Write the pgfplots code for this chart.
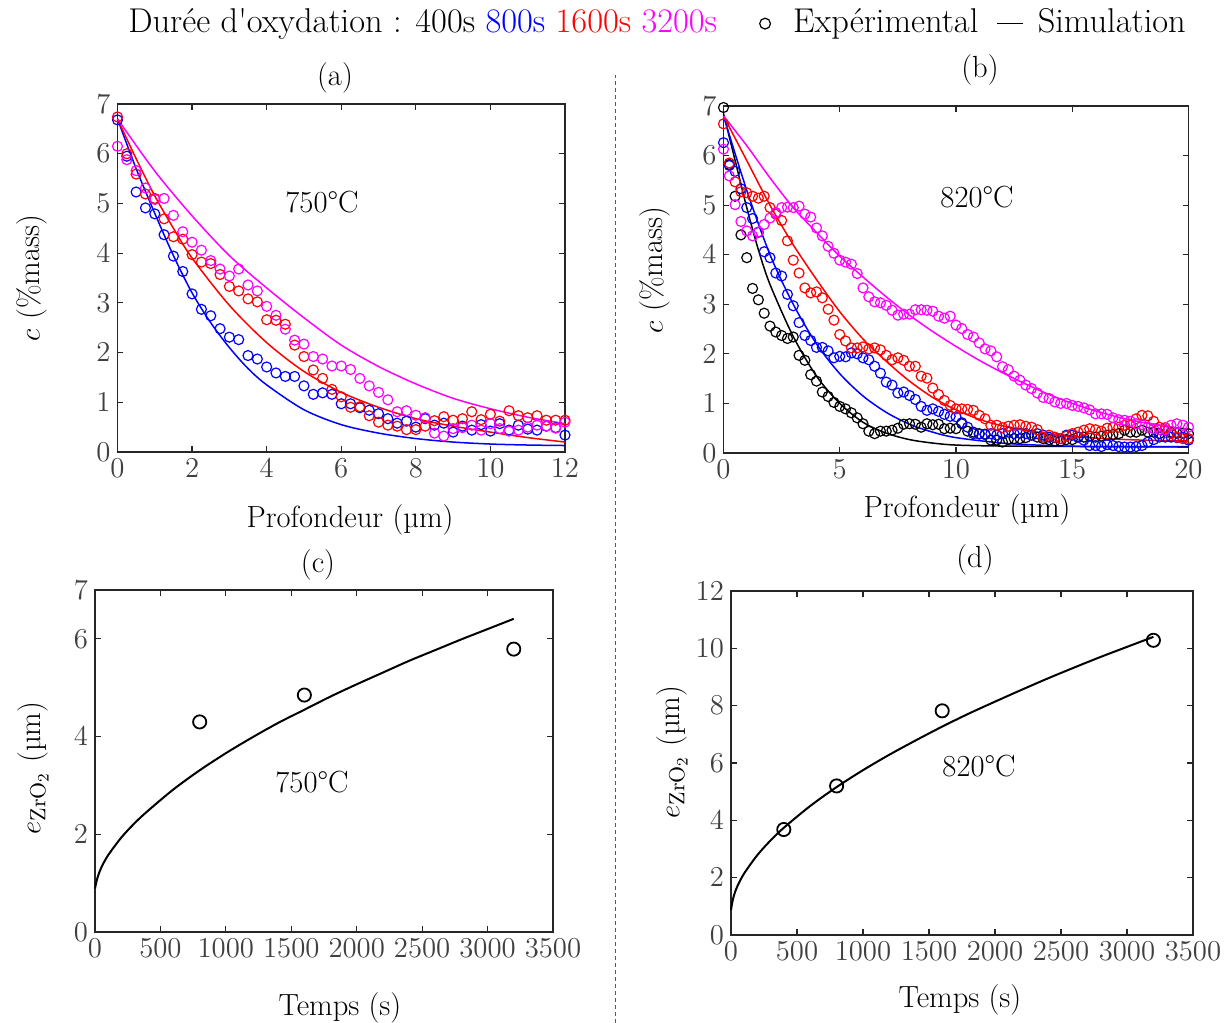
\documentclass[border=0pt]{standalone}
\usepackage{pgfplots}
\pgfplotsset{compat=1.18}
\definecolor{axgray}{RGB}{38,38,38}
\definecolor{tkgray}{RGB}{64,64,64}
\definecolor{cblue}{RGB}{0,0,255}
\definecolor{cred}{RGB}{255,0,0}
\definecolor{cmag}{RGB}{255,0,255}
\pgfplotsset{
  mstyle/.style={
    scale only axis, anchor=south west, clip=false,
    axis line style={draw=axgray, line width=0.75pt},
    tick style={draw=axgray, line width=0.6pt},
    major tick length=2.8pt,
    tick align=inside,
    tick label style={font=\fontsize{13.3}{15}\selectfont, text=tkgray},
  },
  expt/.style={only marks, mark=o, mark size=2.5pt, mark options={line width=0.6pt, solid}},
  sim/.style={no marks, line width=0.75pt, smooth},
}
\newcommand{\lbl}{\fontsize{15.3}{18}\selectfont}
\begin{document}
\begin{tikzpicture}
\path[use as bounding box] (0,0) rectangle (613.5pt,511.5pt);

% ---------------- (a) ----------------
\begin{axis}[mstyle, at={(58.75pt,285.5pt)}, width=223.75pt, height=174pt,
  xmin=0, xmax=12, ymin=0, ymax=7, xtick={0,2,...,12}, ytick={0,1,...,7}]
\addplot[expt, cblue] coordinates {(0,6.68)(0.25,5.95)(0.5,5.23)(0.75,4.91)(1,4.79)(1.25,4.37)(1.5,3.94)(1.75,3.63)(2,3.18)(2.25,2.87)(2.5,2.74)(2.75,2.48)(3,2.31)(3.25,2.26)(3.5,1.94)(3.75,1.87)(4,1.71)(4.25,1.59)(4.5,1.52)(4.75,1.52)(5,1.33)(5.25,1.16)(5.5,1.19)(5.75,1.16)(6,0.97)(6.25,0.97)(6.5,0.89)(6.75,0.84)(7,0.77)(7.25,0.67)(7.5,0.58)(7.75,0.62)(8,0.50)(8.25,0.67)(8.5,0.54)(8.75,0.58)(9,0.40)(9.25,0.52)(9.5,0.44)(9.75,0.55)(10,0.42)(10.25,0.57)(10.5,0.44)(10.75,0.54)(11,0.46)(11.25,0.44)(11.5,0.52)(11.75,0.49)(12,0.34)};
\addplot[expt, cred] coordinates {(0,6.74)(0.25,6.0)(0.5,5.59)(0.75,5.19)(1,5.10)(1.25,4.69)(1.5,4.33)(1.75,4.28)(2,3.97)(2.25,3.82)(2.5,3.79)(2.75,3.57)(3,3.33)(3.25,3.24)(3.5,3.08)(3.75,3.02)(4,2.66)(4.25,2.65)(4.5,2.57)(4.75,2.15)(5,1.92)(5.25,1.65)(5.5,1.48)(5.75,1.26)(6,1.11)(6.25,0.90)(6.5,0.91)(6.75,0.73)(7,0.60)(7.25,0.54)(7.5,0.52)(7.75,0.45)(8,0.45)(8.25,0.52)(8.5,0.63)(8.75,0.71)(9,0.64)(9.25,0.67)(9.5,0.81)(9.75,0.65)(10,0.76)(10.25,0.62)(10.5,0.83)(10.75,0.73)(11,0.69)(11.25,0.73)(11.5,0.64)(11.75,0.64)(12,0.64)};
\addplot[expt, cmag] coordinates {(0,6.15)(0.25,5.88)(0.5,5.66)(0.75,5.31)(1,5.08)(1.25,5.10)(1.5,4.76)(1.75,4.43)(2,4.22)(2.25,4.06)(2.5,3.85)(2.75,3.68)(3,3.54)(3.25,3.68)(3.5,3.36)(3.75,3.24)(4,2.93)(4.25,2.75)(4.5,2.47)(4.75,2.25)(5,2.17)(5.25,1.92)(5.5,1.87)(5.75,1.73)(6,1.73)(6.25,1.66)(6.5,1.48)(6.75,1.33)(7,1.20)(7.25,1.05)(7.5,0.81)(7.75,0.83)(8,0.74)(8.25,0.69)(8.5,0.38)(8.75,0.32)(9,0.47)(9.25,0.49)(9.5,0.54)(9.75,0.44)(10,0.57)(10.25,0.47)(10.5,0.42)(10.75,0.44)(11,0.50)(11.25,0.54)(11.5,0.52)(11.75,0.48)(12,0.60)};
\addplot[sim, cblue] coordinates {(0,6.7)(0.5,5.7)(1,4.8)(1.5,3.95)(2,3.2)(2.5,2.6)(3,2.1)(3.5,1.68)(4,1.35)(5,0.85)(6,0.55)(7,0.38)(8,0.27)(9,0.2)(10,0.16)(11,0.14)(12,0.13)};
\addplot[sim, cred] coordinates {(0,6.7)(0.5,5.9)(1,5.15)(1.5,4.5)(2,3.9)(3,2.95)(4,2.2)(5,1.62)(6,1.2)(7,0.9)(8,0.67)(9,0.52)(10,0.4)(11,0.29)(12,0.2)};
\addplot[sim, cmag] coordinates {(0,6.7)(1,5.65)(2,4.75)(3,3.95)(4,3.3)(5,2.7)(6,2.15)(7,1.72)(8,1.37)(9,1.08)(10,0.87)(11,0.7)(12,0.57)};
\end{axis}

% ---------------- (b) ----------------
\begin{axis}[mstyle, at={(361.75pt,285pt)}, width=232.5pt, height=173.5pt,
  xmin=0, xmax=20, ymin=0, ymax=7, xtick={0,5,...,20}, ytick={0,1,...,7}]
\addplot[expt, black] coordinates {(0,6.97)(0.25,5.82)(0.5,5.18)(0.75,4.40)(1,3.94)(1.25,3.32)(1.5,3.09)(1.75,2.82)(2,2.56)(2.25,2.44)(2.5,2.37)(2.75,2.31)(3,2.34)(3.25,1.97)(3.5,1.87)(3.75,1.58)(4,1.45)(4.25,1.23)(4.5,1.14)(4.75,1.02)(5,0.94)(5.25,0.89)(5.5,0.81)(5.75,0.71)(6,0.59)(6.25,0.44)(6.5,0.39)(6.75,0.44)(7,0.44)(7.25,0.46)(7.5,0.50)(7.75,0.58)(8,0.59)(8.25,0.58)(8.5,0.52)(8.75,0.59)(9,0.57)(9.25,0.58)(9.5,0.49)(9.75,0.50)(10,0.49)(10.25,0.59)(10.5,0.44)(10.75,0.42)(11,0.39)(11.25,0.38)(11.5,0.26)(11.75,0.26)(12,0.22)(12.25,0.27)(12.5,0.29)(12.75,0.29)(13,0.31)(13.25,0.36)(13.5,0.32)(13.75,0.29)(14,0.27)(14.25,0.24)(14.5,0.24)(14.75,0.27)(15,0.27)(15.25,0.32)(15.5,0.32)(15.75,0.34)(16,0.32)(16.25,0.34)(16.5,0.36)(16.75,0.37)(17,0.39)(17.25,0.46)(17.5,0.42)(17.75,0.42)(18,0.46)(18.25,0.42)(18.5,0.42)(18.75,0.39)(19,0.46)(19.25,0.42)(19.5,0.40)(19.75,0.40)(20,0.39)};
\addplot[expt, cblue] coordinates {(0,6.26)(0.25,5.80)(0.5,5.68)(0.75,5.33)(1,4.95)(1.25,4.73)(1.5,4.45)(1.75,4.06)(2,3.94)(2.25,3.63)(2.5,3.57)(2.75,3.20)(3,2.97)(3.25,2.63)(3.5,2.37)(3.75,2.27)(4,2.13)(4.25,2.13)(4.5,2.06)(4.75,1.92)(5,1.95)(5.25,1.94)(5.5,2.02)(5.75,2.00)(6,1.92)(6.25,1.88)(6.5,1.75)(6.75,1.61)(7,1.43)(7.25,1.37)(7.5,1.21)(7.75,1.23)(8,1.16)(8.25,1.08)(8.5,0.94)(8.75,0.86)(9,0.89)(9.25,0.84)(9.5,0.78)(9.75,0.74)(10,0.73)(10.25,0.61)(10.5,0.52)(10.75,0.39)(11,0.38)(11.25,0.37)(11.5,0.39)(11.75,0.36)(12,0.39)(12.25,0.42)(12.5,0.39)(12.75,0.40)(13,0.39)(13.25,0.36)(13.5,0.39)(13.75,0.36)(14,0.32)(14.25,0.31)(14.5,0.29)(14.75,0.36)(15,0.36)(15.25,0.32)(15.5,0.26)(15.75,0.15)(16,0.15)(16.25,0.13)(16.5,0.17)(16.75,0.15)(17,0.13)(17.25,0.12)(17.5,0.12)(17.75,0.13)(18,0.15)(18.25,0.22)(18.5,0.27)(18.75,0.32)(19,0.32)(19.25,0.32)(19.5,0.31)(19.75,0.32)(20,0.26)};
\addplot[expt, cred] coordinates {(0,6.64)(0.25,5.85)(0.5,5.47)(0.75,5.27)(1,5.25)(1.25,5.18)(1.5,5.14)(1.75,5.18)(2,4.95)(2.25,4.82)(2.5,4.69)(2.75,4.28)(3,3.89)(3.25,3.63)(3.5,3.33)(3.75,3.23)(4,3.25)(4.25,3.13)(4.5,2.90)(4.75,2.68)(5,2.39)(5.25,2.26)(5.5,2.12)(5.75,2.12)(6,2.14)(6.25,2.10)(6.5,2.12)(6.75,2.08)(7,1.97)(7.25,1.88)(7.5,1.92)(7.75,1.87)(8,1.75)(8.25,1.75)(8.5,1.55)(8.75,1.51)(9,1.31)(9.25,1.18)(9.5,1.06)(9.75,0.96)(10,0.89)(10.25,0.89)(10.5,0.88)(10.75,0.86)(11,0.76)(11.25,0.69)(11.5,0.56)(11.75,0.56)(12,0.51)(12.25,0.54)(12.5,0.56)(12.75,0.57)(13,0.54)(13.25,0.52)(13.5,0.47)(13.75,0.32)(14,0.36)(14.25,0.32)(14.5,0.29)(14.75,0.34)(15,0.39)(15.25,0.42)(15.5,0.46)(15.75,0.49)(16,0.47)(16.25,0.44)(16.5,0.50)(16.75,0.52)(17,0.52)(17.25,0.56)(17.5,0.56)(17.75,0.69)(18,0.76)(18.25,0.75)(18.5,0.64)(18.75,0.52)(19,0.51)(19.25,0.39)(19.5,0.32)(19.75,0.29)(20,0.29)};
\addplot[expt, cmag] coordinates {(0,6.13)(0.25,5.59)(0.5,5.01)(0.75,4.67)(1,4.48)(1.25,4.38)(1.5,4.46)(1.75,4.61)(2,4.74)(2.25,4.85)(2.5,4.95)(2.75,4.96)(3,4.95)(3.25,4.98)(3.5,4.82)(3.75,4.76)(4,4.54)(4.25,4.38)(4.5,4.17)(4.75,4.03)(5,3.89)(5.25,3.85)(5.5,3.81)(5.75,3.62)(6,3.33)(6.25,3.15)(6.5,3.05)(6.75,3.03)(7,2.98)(7.25,2.88)(7.5,2.78)(7.75,2.80)(8,2.80)(8.25,2.89)(8.5,2.89)(8.75,2.88)(9,2.86)(9.25,2.76)(9.5,2.72)(9.75,2.76)(10,2.58)(10.25,2.51)(10.5,2.39)(10.75,2.34)(11,2.22)(11.25,2.10)(11.5,2.06)(11.75,1.94)(12,1.74)(12.25,1.68)(12.5,1.55)(12.75,1.47)(13,1.37)(13.25,1.30)(13.5,1.21)(13.75,1.12)(14,1.10)(14.25,1.03)(14.5,1.00)(14.75,1.00)(15,0.96)(15.25,0.94)(15.5,0.91)(15.75,0.87)(16,0.79)(16.25,0.79)(16.5,0.78)(16.75,0.71)(17,0.67)(17.25,0.66)(17.5,0.64)(17.75,0.59)(18,0.57)(18.25,0.52)(18.5,0.49)(18.75,0.47)(19,0.47)(19.25,0.56)(19.5,0.59)(19.75,0.56)(20,0.52)};
\addplot[sim, black] coordinates {(0,6.85)(0.5,5.9)(1,4.95)(1.5,4.1)(2,3.4)(3,2.35)(4,1.55)(5,1.0)(6,0.62)(7,0.4)(8,0.27)(9,0.2)(10,0.16)(12,0.14)(16,0.13)(20,0.13)};
\addplot[sim, cblue] coordinates {(0,6.8)(1,5.3)(2,4.0)(3,3.0)(4,2.2)(5,1.6)(6,1.15)(7,0.82)(8,0.58)(9,0.42)(10,0.31)(12,0.2)(14,0.15)(16,0.13)(20,0.12)};
\addplot[sim, cred] coordinates {(0,6.8)(1,5.9)(2,5.0)(3,4.2)(4,3.5)(5,2.85)(6,2.3)(7,1.85)(8,1.45)(9,1.12)(10,0.87)(11,0.68)(12,0.55)(14,0.38)(16,0.3)(18,0.26)(20,0.24)};
\addplot[sim, cmag] coordinates {(0,6.8)(1,6.2)(2,5.55)(3,4.95)(4,4.45)(5,3.97)(6,3.55)(7,3.15)(8,2.78)(9,2.45)(10,2.15)(11,1.87)(12,1.62)(13,1.39)(14,1.18)(15,1.0)(16,0.85)(17,0.72)(18,0.62)(19,0.54)(20,0.48)};
\end{axis}

% ---------------- (c) ----------------
\begin{axis}[mstyle, at={(47.5pt,45.5pt)}, width=229pt, height=171pt,
  xmin=0, xmax=3500, ymin=0, ymax=7, xtick={0,500,...,3500}, ytick={0,2,4,6,7},
  scaled x ticks=false, xticklabel style={/pgf/number format/1000 sep={}}]
\addplot[sim, black, line width=1pt] coordinates {(0,0.89)(10,1.02)(25,1.16)(50,1.33)(100,1.57)(200,1.93)(300,2.22)(400,2.47)(600,2.92)(800,3.31)(1000,3.66)(1200,3.98)(1400,4.28)(1600,4.55)(1800,4.82)(2000,5.07)(2200,5.31)(2400,5.55)(2600,5.77)(2800,5.99)(3000,6.20)(3200,6.41)};
\addplot[only marks, mark=o, mark size=3.3pt, mark options={line width=0.9pt}, black] coordinates {(800,4.30)(1600,4.85)(3200,5.79)};
\end{axis}

% ---------------- (d) ----------------
\begin{axis}[mstyle, at={(365.5pt,44pt)}, width=231pt, height=172pt,
  xmin=0, xmax=3500, ymin=0, ymax=12, xtick={0,500,...,3500}, ytick={0,2,...,12},
  scaled x ticks=false, xticklabel style={/pgf/number format/1000 sep={}}]
\addplot[sim, black, line width=1pt] coordinates {(0,0.87)(10,1.15)(25,1.42)(50,1.72)(100,2.15)(200,2.79)(300,3.30)(400,3.74)(600,4.50)(800,5.16)(1000,5.75)(1200,6.29)(1400,6.79)(1600,7.27)(1800,7.72)(2000,8.14)(2200,8.55)(2400,8.95)(2600,9.33)(2800,9.70)(3000,10.05)(3200,10.40)};
\addplot[only marks, mark=o, mark size=3.3pt, mark options={line width=0.9pt}, black] coordinates {(400,3.68)(800,5.20)(1600,7.82)(3200,10.28)};
\end{axis}

% ---------------- texts ----------------
\node[font=\fontsize{17.2}{20}\selectfont] at (328.5pt,499.5pt) {Durée d\textquotesingle oxydation : 400s \textcolor{cblue}{800s} \textcolor{cred}{1600s} \textcolor{cmag}{3200s}\hspace{21pt}\tikz[baseline=-0.6ex]\draw[line width=0.6pt] (0,0) circle (2.7pt);\hspace{11pt}Expérimental\hspace{9pt}\tikz[baseline=-0.6ex]\draw[line width=0.7pt] (0,0)--(13pt,0);\hspace{7pt}Simulation};

\node[font=\lbl] at (167.5pt,472.5pt) {(a)};
\node[font=\lbl] at (490pt,476.5pt) {(b)};
\node[font=\lbl] at (159pt,229pt) {(c)};
\node[font=\lbl] at (487.5pt,231.5pt) {(d)};

\node[font=\lbl] at (175pt,251.5pt) {Profondeur (µm)};
\node[font=\lbl] at (483.5pt,256.5pt) {Profondeur (µm)};
\node[font=\lbl] at (170pt,7.5pt) {Temps (s)};
\node[font=\lbl] at (480pt,11.5pt) {Temps (s)};

\node[font=\lbl, rotate=90] at (16pt,372.5pt) {$c$ (\%mass)};
\node[font=\lbl, rotate=90] at (327.5pt,376.5pt) {$c$ (\%mass)};
\node[font=\lbl, rotate=90] at (16.5pt,127.5pt) {$e_{\mathrm{ZrO}_2}$ (µm)};
\node[font=\lbl, rotate=90] at (336pt,135.5pt) {$e_{\mathrm{ZrO}_2}$ (µm)};

\node[font=\lbl] at (161pt,410.5pt) {750°C};
\node[font=\lbl] at (488.5pt,413pt) {820°C};
\node[font=\lbl] at (156pt,120.5pt) {750°C};
\node[font=\lbl] at (489.5pt,128.5pt) {820°C};

\draw[black!65, line width=0.5pt, dash pattern=on 2pt off 1.5pt] (307.5pt,0pt) -- (307.5pt,474pt);
\end{tikzpicture}
\end{document}
